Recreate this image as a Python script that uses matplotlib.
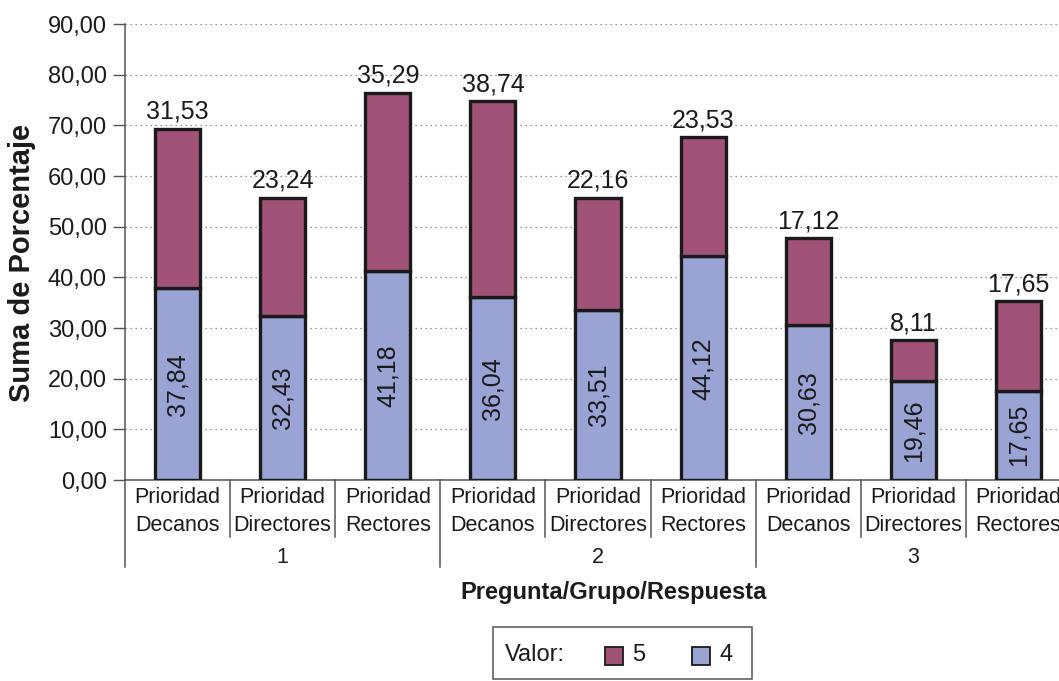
import matplotlib

matplotlib.use("Agg")
import matplotlib.pyplot as plt
from matplotlib.patches import Rectangle

# survey results: share of answers 4 and 5 by question and group
GROUPS = ["1", "2", "3"]
CATEGORIES = ["Prioridad\nDecanos", "Prioridad\nDirectores", "Prioridad\nRectores"] * 3
VALUE_4 = [37.84, 32.43, 41.18, 36.04, 33.51, 44.12, 30.63, 19.46, 17.65]
VALUE_5 = [31.53, 23.24, 35.29, 38.74, 22.16, 23.53, 17.12, 8.11, 17.65]
Y_TICKS = [0, 10, 20, 30, 40, 50, 60, 70, 80, 90]

COLOR_4 = "#99A3D4"
COLOR_5 = "#A05277"
TEXT = "#1c1a1b"

W, H = 1059, 681


def fmt(v):
    return f"{v:.2f}".replace(".", ",")


def main():
    plt.rcParams["font.family"] = ["Liberation Sans", "DejaVu Sans"]
    fig = plt.figure(figsize=(W / 100, H / 100), dpi=100)
    fig.patch.set_facecolor("white")

    left, right = 125 / W, 1071 / W
    bottom, top = (H - 480) / H, (H - 24) / H
    ax = fig.add_axes([left, bottom, right - left, top - bottom])
    ax.set_facecolor("white")

    x = list(range(len(CATEGORIES)))
    ax.bar(x, VALUE_4, width=0.43, color=COLOR_4, edgecolor="#1a1a1a",
           linewidth=2.4, zorder=3)
    ax.bar(x, VALUE_5, bottom=VALUE_4, width=0.43, color=COLOR_5,
           edgecolor="#1a1a1a", linewidth=2.4, zorder=3)

    for xi, v4, v5 in zip(x, VALUE_4, VALUE_5):
        ax.text(xi, v4 + v5 + 1.0, fmt(v5), ha="center", va="bottom",
                fontsize=18, color=TEXT, zorder=4)
        ax.text(xi, v4 / 2, fmt(v4), ha="center", va="center",
                rotation=90, fontsize=18, color=TEXT, zorder=4)

    ax.set_xlim(-0.5, len(CATEGORIES) - 0.5)
    ax.set_ylim(0, 90)
    ax.set_yticks(Y_TICKS)
    ax.set_yticklabels([fmt(t) for t in Y_TICKS], fontsize=17, color=TEXT)
    ax.tick_params(axis="y", length=9, width=1, color="#555555", pad=4)
    ax.set_xticks([])
    ax.grid(axis="y", linestyle=(0, (1, 3)), color="#777777", linewidth=0.9, zorder=0)
    ax.set_axisbelow(True)
    for side in ("top", "right"):
        ax.spines[side].set_visible(False)
    for side in ("left", "bottom"):
        ax.spines[side].set_color("#555555")
        ax.spines[side].set_linewidth(1.1)

    # two-level category axis
    tr = ax.get_xaxis_transform()
    inner = -57 / 456
    outer = -87 / 456
    for i in range(len(CATEGORIES) + 1):
        depth = outer if i % 3 == 0 else inner
        ax.plot([i - 0.5, i - 0.5], [0, depth], transform=tr, color="#555555",
                linewidth=1.1, clip_on=False)
    for xi, label in zip(x, CATEGORIES):
        ax.text(xi, -0.016, label, transform=tr, ha="center", va="top",
                fontsize=15.5, color=TEXT, linespacing=1.4, clip_on=False)
    for g, name in enumerate(GROUPS):
        ax.text(g * 3 + 1, -0.148, name, transform=tr, ha="center", va="top",
                fontsize=15.5, color=TEXT, clip_on=False)

    fig.text(614 / W, 1 - 592 / H, "Pregunta/Grupo/Respuesta", ha="center",
             va="center", fontsize=17, fontweight="bold", color=TEXT)
    fig.text(22 / W, 1 - 263 / H, "Suma de Porcentaje", ha="center",
             va="center", rotation=90, fontsize=21, fontweight="bold", color=TEXT)

    # legend box
    def px(xp, yp):
        return xp / W, 1 - yp / H

    fig.patches.append(Rectangle(px(493, 679), 259 / W, 52 / H,
                                 transform=fig.transFigure, facecolor="white",
                                 edgecolor="#555555", linewidth=1.1))
    fig.text(*px(505, 655), "Valor:", ha="left", va="center", fontsize=17, color=TEXT)
    for x0, color, name in [(605, COLOR_5, "5"), (692, COLOR_4, "4")]:
        fig.patches.append(Rectangle(px(x0, 665), 18 / W, 18 / H,
                                     transform=fig.transFigure, facecolor=color,
                                     edgecolor="#1a1a1a", linewidth=1.3))
        fig.text(*px(x0 + 27, 655), name, ha="left", va="center",
                 fontsize=17, color=TEXT)

    fig.savefig("out.png", dpi=100)


if __name__ == "__main__":
    main()
